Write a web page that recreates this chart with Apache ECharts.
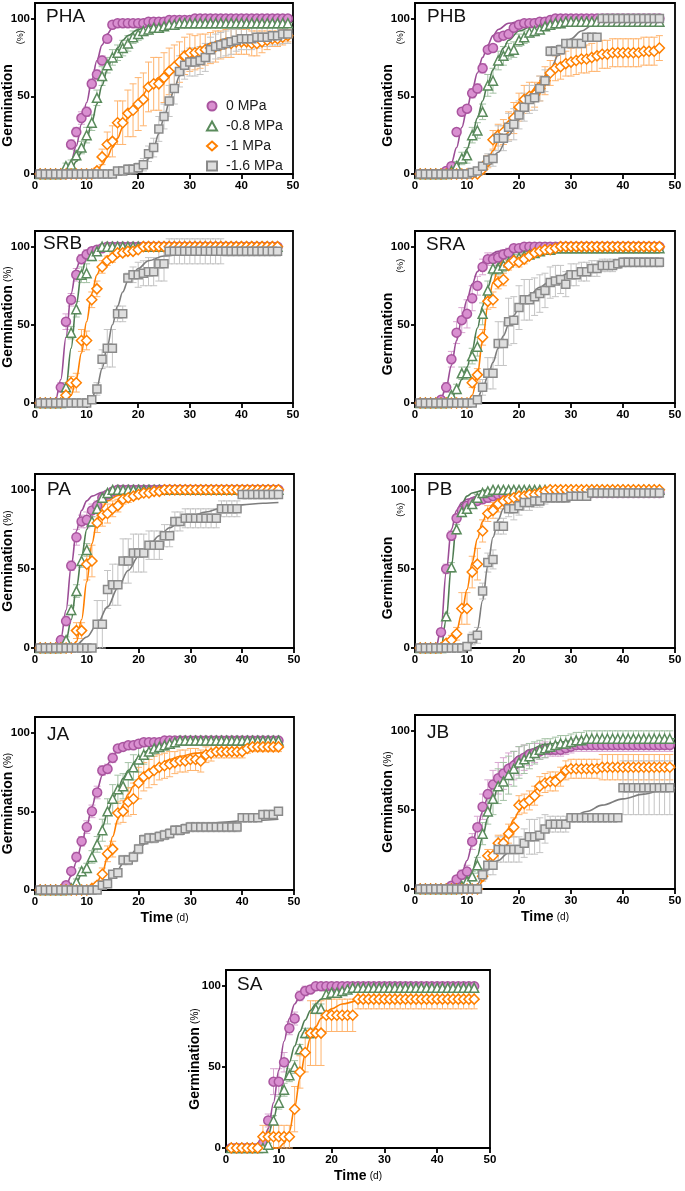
<!DOCTYPE html>
<html>
<head>
<meta charset="utf-8">
<script src="https://cdn.jsdelivr.net/npm/echarts@6/dist/echarts.min.js"></script>
<style>
html,body{margin:0;padding:0;background:#fff;}
#chart{width:685px;height:1191px;}
</style>
</head>
<body>
<div id="chart"></div>
<script>
// ---------- DATA (mean germination % per day, day 1..N; SD; fitted curve points) ----------
const SERIES_NAMES = ['0 MPa', '-0.8 MPa', '-1 MPa', '-1.6 MPa'];
const PANEL_NAMES = ['PHA', 'PHB', 'SRB', 'SRA', 'PA', 'PB', 'JA', 'JB', 'SA'];
const X_TICKS = [0, 10, 20, 30, 40, 50];
const Y_TICKS = [0, 50, 100];

// PHA (days 1-49)
const PHA_0 = [0,0,0,0,0,0,19,27,36,40, 58,64,73,87,96,97,97,97,97,97, 97,98,98,98,98,99,99,99,99,99, 100,100,100,100,100,100,100,100,100,100, 100,100,100,100,100,100,100,100,100];
const PHA_0_SD = [0,0,0,0,0,0,3,3,4,3, 3,3,3,2,2,1,1,1,1,1, 1,1,1,1,1,1,1,1,1,1, 0,0,0,0,0,0,0,0,0,0, 0,0,0,0,0,0,0,0,0];
const PHA_08 = [0,0,0,0,0,5,6,12,17,25, 33,49,63,70,75,78,81,84,88,90, 92,93,94,94,95,96,96,97,97,97, 97,97,97,97,97,97,97,97,97,97, 97,97,97,97,97,97,97,97,97];
const PHA_08_SD = [0,0,0,0,0,2,3,3,4,5, 5,5,6,5,5,5,5,5,4,4, 3,3,3,2,2,2,2,2,2,2, 2,2,2,2,2,2,2,2,2,2, 2,2,2,2,2,2,2,2,2];
const PHA_1 = [0,0,0,0,0,0,0,0,0,0, 0,2,11,19,21,33,33,39,41,45, 48,56,58,58,62,66,69,72,76,78, 78,79,80,81,82,83,84,84,85,85, 85,84,84,85,86,87,87,88,89];
const PHA_1_SD = [0,0,0,0,0,0,0,0,0,0, 0,2,5,8,10,14,14,15,17,17, 17,16,17,17,16,15,14,13,12,12, 11,11,10,10,10,9,9,9,8,8, 8,8,8,7,6,5,5,5,4];
const PHA_16 = [0,0,0,0,0,0,0,0,0,0, 0,0,0,0,0,2,2,3,3,4, 6,13,17,29,37,47,55,66,70,72, 72,73,75,80,82,83,84,85,86,87, 87,87,88,88,88,89,89,90,90];
const PHA_16_SD = [0,0,0,0,0,0,0,0,0,0, 0,0,0,0,0,2,2,3,3,3, 4,5,6,8,8,10,10,10,9,9, 9,9,9,8,8,8,8,8,7,7, 7,7,7,6,6,6,6,6,6];
const PHA_0_FIT = [[0,0],[5,0],[6,2],[7,8],[8,18],[9,32],[10,46],[11,60],[12,73],[13,83],[14,90],[15,94],[17,97],[20,98.5],[25,99.5],[30,100],[50,100]];
const PHA_08_FIT = [[0,0],[5.5,0],[7,3],[8,8],[9,14],[10,22],[11,33],[12,45],[13,57],[14,67],[15,75],[16,81],[17,86],[18,89],[20,93],[22,95],[25,96.5],[30,97],[50,97.5]];
const PHA_1_FIT = [[0,0],[11,0],[12,2],[13,6],[14,11],[15,17],[16,23],[17,30],[18,36],[20,46],[22,55],[24,62],[26,68],[28,73],[30,76],[33,80],[36,83],[40,85],[45,87],[50,88]];
const PHA_16_FIT = [[0,0],[19,0],[20,2],[21,5],[22,10],[23,17],[24,26],[25,36],[26,46],[27,55],[28,63],[29,69],[30,74],[32,80],[34,84],[37,87],[40,88.5],[45,89.5],[50,90]];

// PHB (days 1-47)
const PHB_0 = [0,0,0,0,0,2,5,27,40,42, 52,55,68,80,81,88,89,90,94,96, 97,97,97,98,98,99,100,100,100,100, 100,100,100,100,100,100,100,100,100,100, 100,100,100,100,100,100,100];
const PHB_0_SD = [0,0,0,0,0,1,2,2,2,2, 3,3,3,2,2,2,2,2,2,2, 1,1,1,1,1,1,0,0,0,0, 0,0,0,0,0,0,0,0,0,0, 0,0,0,0,0,0,0];
const PHB_08 = [0,0,0,0,0,0,2,5,10,12, 25,28,40,57,60,73,76,79,80,86, 88,91,92,93,95,96,97,97,98,98, 98,98,98,98,98,98,98,98,98,98, 98,98,98,98,98,98,98];
const PHB_08_SD = [0,0,0,0,0,0,1,3,4,5, 5,5,5,7,8,6,6,5,5,4, 4,3,3,2,2,2,2,2,2,2, 2,2,2,2,2,2,2,2,2,2, 2,2,2,2,2,2,2];
const PHB_1 = [0,0,0,0,0,0,0,0,0,0, 0,0,3,8,22,25,27,31,36,43, 48,50,51,55,60,65,68,69,71,72, 73,74,74,75,76,77,77,78,78,78, 78,78,78,79,79,79,81];
const PHB_1_SD = [0,0,0,0,0,0,0,0,0,0, 0,0,3,4,6,7,8,9,10,9, 9,9,8,8,9,8,8,8,8,9, 9,9,9,9,10,9,9,9,9,9, 9,9,9,9,9,9,8];
const PHB_16 = [0,0,0,0,0,0,0,0,0,0, 1,2,5,9,10,23,23,30,32,38, 43,48,49,55,60,79,79,80,84,84, 84,84,88,88,88,100,100,100,100,100, 100,100,100,100,100,100,100];
const PHB_16_SD = [0,0,0,0,0,0,0,0,0,0, 1,1,2,4,5,8,8,9,10,9, 9,9,8,8,7,3,3,3,2,2, 2,2,2,2,2,0,0,0,0,0, 0,0,0,0,0,0,0];
const PHB_0_FIT = [[0,0],[5,0],[6,2],[7,7],[8,17],[9,30],[10,42],[11,54],[12,65],[13,75],[14,83],[15,89],[16,93],[18,97],[21,99],[25,100],[47,100]];
const PHB_08_FIT = [[0,0],[6,0],[7,1],[8,4],[9,9],[10,16],[11,25],[12,36],[13,47],[14,58],[15,67],[16,75],[17,81],[18,86],[20,92],[23,96],[27,98],[35,98.5],[47,99]];
const PHB_1_FIT = [[0,0],[11,0],[12,1],[13,4],[14,9],[15,15],[16,21],[17,27],[18,33],[20,43],[22,52],[24,59],[26,65],[28,69],[30,72],[33,75],[36,77],[40,78],[47,79]];
const PHB_16_FIT = [[0,0],[12,0],[14,5],[16,14],[18,25],[20,35],[22,46],[24,57],[26,68],[28,79],[30,87],[32,92],[34,95.5],[36,97.5],[40,99.5],[44,100],[47,100]];

// SRB (days 1-47)
const SRB_0 = [0,0,0,0,10,52,66,82,92,95, 97,98,99,100,100,100,100,100,100,100, 100,100,100,100,100,100,100,100,100,100, 100,100,100,100,100,100,100,100,100,100, 100,100,100,100,100,100,100];
const SRB_0_SD = [0,0,0,0,3,5,4,4,3,3, 2,1,0,0,0,0,0,0,0,0, 0,0,0,0,0,0,0,0,0,0, 0,0,0,0,0,0,0,0,0,0, 0,0,0,0,0,0,0];
const SRB_08 = [0,0,0,0,0,10,45,60,82,83, 94,97,100,100,100,100,100,100,100,100, 100,100,100,100,100,100,100,100,100,100, 100,100,100,100,100,100,100,100,100,100, 100,100,100,100,100,100,100];
const SRB_08_SD = [0,0,0,0,0,3,4,5,5,6, 3,2,0,0,0,0,0,0,0,0, 0,0,0,0,0,0,0,0,0,0, 0,0,0,0,0,0,0,0,0,0, 0,0,0,0,0,0,0];
const SRB_1 = [0,0,0,0,0,5,13,13,40,40, 66,73,87,91,93,96,96,97,97,98, 100,100,100,100,100,100,100,100,100,100, 100,100,100,100,100,100,100,100,100,100, 100,100,100,100,100,100,100];
const SRB_1_SD = [0,0,0,0,0,2,4,6,7,6, 5,5,4,3,3,2,2,2,2,1, 0,0,0,0,0,0,0,0,0,0, 0,0,0,0,0,0,0,0,0,0, 0,0,0,0,0,0,0];
const SRB_16 = [0,0,0,0,0,0,0,0,0,0, 2,9,28,35,35,57,57,80,82,82, 83,84,84,89,89,97,97,97,97,97, 97,97,97,97,97,97,97,97,97,97, 97,97,97,97,97,97,97];
const SRB_16_SD = [0,0,0,0,0,0,0,0,0,0, 1,4,6,12,12,5,5,3,5,8, 8,9,9,11,11,8,8,8,8,8, 8,8,8,8,8,8,3,3,3,3, 3,3,3,3,3,3,3];
const SRB_0_FIT = [[0,0],[3.5,0],[4,2],[5,15],[6,42],[7,70],[8,86],[9,94],[10,97],[12,99.5],[15,100],[47,100]];
const SRB_08_FIT = [[0,0],[5,0],[6,10],[7,35],[8,63],[9,83],[10,93],[11,97],[13,99.5],[16,100],[47,100]];
const SRB_1_FIT = [[0,0],[6,0],[7,5],[8,15],[9,32],[10,52],[11,70],[12,82],[13,89],[14,93],[16,97],[20,99],[25,100],[47,100]];
const SRB_16_FIT = [[0,0],[10,0],[11,3],[12,10],[13,22],[14,36],[15,50],[16,62],[17,71],[18,78],[19,83],[20,86],[22,91],[25,94],[30,96],[47,97]];

// SRA (days 1-47)
const SRA_0 = [0,0,0,0,2,10,28,45,53,57, 67,75,87,92,92,93,95,96,99,99, 100,100,100,100,100,100,100,100,100,100, 100,100,100,100,100,100,100,100,100,100, 100,100,100,100,100,100,100];
const SRA_0_SD = [0,0,0,0,1,3,5,7,8,9, 8,6,5,4,4,4,3,3,1,1, 0,0,0,0,0,0,0,0,0,0, 0,0,0,0,0,0,0,0,0,0, 0,0,0,0,0,0,0];
const SRA_08 = [0,0,0,0,0,0,5,9,19,19, 30,36,57,72,86,86,88,90,92,93, 94,95,96,97,98,98,99,99,99,99, 99,99,99,99,99,99,99,99,99,99, 99,99,99,99,99,99,99];
const SRA_08_SD = [0,0,0,0,0,0,2,3,4,4, 5,6,7,6,4,4,4,3,3,3, 2,2,1,1,1,1,1,1,1,1, 1,1,1,1,1,1,1,1,1,1, 1,1,1,1,1,1,1];
const SRA_1 = [0,0,0,0,0,0,0,0,0,0, 13,18,42,65,66,77,79,88,91,90, 92,94,96,97,98,98,99,100,100,100, 100,100,100,100,100,100,100,100,100,100, 100,100,100,100,100,100,100];
const SRA_1_SD = [0,0,0,0,0,0,0,0,0,0, 3,4,5,5,5,4,4,3,3,3, 3,2,2,2,1,1,1,0,0,0, 0,0,0,0,0,0,0,0,0,0, 0,0,0,0,0,0,0];
const SRA_16 = [0,0,0,0,0,0,0,0,0,0, 0,2,10,19,19,38,38,52,53,61, 66,66,68,70,72,77,78,79,76,82, 82,84,84,86,86,88,88,88,89,90, 90,90,90,90,90,90,90];
const SRA_16_SD = [0,0,0,0,0,0,0,0,0,0, 0,1,5,10,10,14,14,15,15,14, 13,13,12,12,11,10,10,9,8,7, 7,6,6,5,5,4,4,4,3,3, 3,3,3,3,3,3,3];
const SRA_0_FIT = [[0,0],[4,0],[5,3],[6,10],[7,24],[8,40],[9,54],[10,66],[11,76],[12,84],[13,90],[14,94],[16,97],[18,98.5],[22,99.5],[27,100],[47,100]];
const SRA_08_FIT = [[0,0],[6,0],[7,3],[8,8],[9,15],[10,23],[11,34],[12,48],[13,62],[14,74],[15,83],[16,89],[17,93],[18,95],[20,97],[25,98.5],[30,99],[47,99]];
const SRA_1_FIT = [[0,0],[10,0],[11,5],[12,18],[13,40],[14,62],[15,77],[16,86],[17,92],[18,95],[20,98],[24,99.5],[30,100],[47,100]];
const SRA_16_FIT = [[0,0],[11,0],[12,3],[13,9],[14,17],[15,26],[16,35],[17,43],[18,50],[19,56],[20,61],[22,69],[24,74],[26,78],[28,81],[30,84],[33,86],[36,88],[40,89],[47,90]];

// PA (days 1-47)
const PA_0 = [0,0,0,0,5,17,52,70,80,81, 87,90,95,97,99,100,100,100,100,100, 100,100,100,100,100,100,100,100,100,100, 100,100,100,100,100,100,100,100,100,100, 100,100,100,100,100,100,100];
const PA_0_SD = [0,0,0,0,2,3,3,5,4,5, 4,3,2,2,1,0,0,0,0,0, 0,0,0,0,0,0,0,0,0,0, 0,0,0,0,0,0,0,0,0,0, 0,0,0,0,0,0,0];
const PA_08 = [0,0,0,0,0,5,24,36,55,62, 80,88,95,98,100,100,100,100,100,100, 100,100,100,100,100,100,100,100,100,100, 100,100,100,100,100,100,100,100,100,100, 100,100,100,100,100,100,100];
const PA_08_SD = [0,0,0,0,0,2,3,4,4,4, 3,3,2,1,0,0,0,0,0,0, 0,0,0,0,0,0,0,0,0,0, 0,0,0,0,0,0,0,0,0,0, 0,0,0,0,0,0,0];
const PA_1 = [0,0,0,0,0,0,0,11,11,53, 55,79,84,85,88,90,94,95,96,97, 98,98,99,99,100,100,100,100,100,100, 100,100,100,100,100,100,100,100,100,100, 100,100,100,100,100,100,100];
const PA_1_SD = [0,0,0,0,0,0,0,5,5,10, 10,6,7,6,5,4,3,3,2,2, 1,1,1,1,0,0,0,0,0,0, 0,0,0,0,0,0,0,0,0,0, 0,0,0,0,0,0,0];
const PA_16 = [0,0,0,0,0,0,0,0,0,0, 0,15,15,37,40,40,55,55,60,60, 60,65,65,65,71,71,80,80,82,82, 82,82,82,82,82,88,88,88,88,97, 97,97,97,97,97,97,97];
const PA_16_SD = [0,0,0,0,0,0,0,0,0,0, 0,15,15,12,13,13,14,14,12,12, 12,9,9,9,7,7,6,6,6,6, 6,6,6,6,6,5,5,5,5,2, 2,2,2,2,2,2,2];
const PA_0_FIT = [[0,0],[4,0],[5,6],[6,24],[7,52],[8,74],[9,87],[10,93],[11,96],[13,98.5],[16,99.5],[20,100],[47,100]];
const PA_08_FIT = [[0,0],[5,0],[6,5],[7,18],[8,38],[9,58],[10,75],[11,86],[12,93],[13,96],[15,98.5],[18,99.5],[22,100],[47,100]];
const PA_1_FIT = [[0,0],[7,0],[8,4],[9,18],[10,42],[11,66],[12,81],[13,89],[14,93],[16,96.5],[19,98.5],[24,99.5],[30,100],[47,100]];
const PA_16_FIT = [[0,0],[6,0],[8,2],[10,7],[12,15],[14,26],[16,38],[18,49],[20,58],[22,65],[24,71],[26,76],[28,80],[30,83],[33,86],[36,88.5],[40,90.5],[44,91.5],[47,92]];

// PB (days 1-47)
const PB_0 = [0,0,0,0,10,50,71,82,87,90, 92,93,94,95,96,97,97,98,98,98, 98,98,98,98,98,98,98,98,98,98, 98,98,98,98,98,98,98,98,98,98, 98,98,98,98,98,98,98];
const PB_0_SD = [0,0,0,0,2,3,3,2,2,2, 2,2,2,1,1,1,1,1,1,1, 1,1,1,1,1,1,1,1,1,1, 1,1,1,1,1,1,1,1,1,1, 1,1,1,1,1,1,1];
const PB_08 = [0,0,0,0,0,20,51,75,86,88, 91,95,98,99,100,100,100,100,100,100, 100,100,100,100,100,100,100,100,100,100, 100,100,100,100,100,100,100,100,100,100, 100,100,100,100,100,100,100];
const PB_08_SD = [0,0,0,0,0,2,3,3,3,3, 2,2,1,1,0,0,0,0,0,0, 0,0,0,0,0,0,0,0,0,0, 0,0,0,0,0,0,0,0,0,0, 0,0,0,0,0,0,0];
const PB_1 = [0,0,0,0,0,3,5,9,25,25, 48,53,74,85,87,91,93,94,95,96, 96,97,97,98,99,100,100,100,100,100, 100,100,100,100,100,100,100,100,100,100, 100,100,100,100,100,100,100];
const PB_1_SD = [0,0,0,0,0,2,3,4,10,10, 10,10,7,5,5,5,5,5,4,4, 4,3,3,2,1,0,0,0,0,0, 0,0,0,0,0,0,0,0,0,0, 0,0,0,0,0,0,0];
const PB_16 = [0,0,0,0,0,0,0,0,0,1, 6,8,36,54,56,77,77,88,88,90, 92,92,93,93,95,95,95,95,95,96, 96,96,96,98,98,98,98,98,98,98, 98,98,98,98,98,98,98];
const PB_16_SD = [0,0,0,0,0,0,0,0,0,1, 4,5,5,6,6,5,5,5,7,6, 5,5,4,4,4,3,3,3,3,2, 2,2,2,1,1,1,1,1,1,1, 1,1,1,1,1,1,1];
const PB_0_FIT = [[0,0],[4,0],[5,12],[6,48],[7,75],[8,87],[9,92],[10,94],[12,96],[15,97],[20,97.5],[47,97.5]];
const PB_08_FIT = [[0,0],[5,0],[6,18],[7,52],[8,79],[9,91],[10,96],[11,98],[13,99.5],[16,100],[47,100]];
const PB_1_FIT = [[0,0],[5,0],[6,2],[7,5],[8,11],[9,22],[10,37],[11,54],[12,69],[13,80],[14,87],[15,91],[16,94],[18,97],[21,98.5],[26,99.5],[32,100],[47,100]];
const PB_16_FIT = [[0,0],[10,0],[11,3],[12,12],[13,30],[14,52],[15,70],[16,81],[17,88],[18,92],[20,95],[23,97],[27,98],[35,98.5],[47,98.5]];

// JA (days 1-47)
const JA_0 = [0,0,0,0,0,3,12,21,31,40, 50,62,76,77,84,90,91,92,92,93, 94,94,94,94,95,95,95,95,95,95, 95,95,95,95,95,95,95,95,95,95, 95,95,95,95,95,95,95];
const JA_0_SD = [0,0,0,0,0,1,2,3,3,4, 4,4,3,3,3,2,2,2,2,2, 2,2,2,2,2,2,2,2,2,2, 2,2,2,2,2,2,2,2,2,2, 2,2,2,2,2,2,2];
const JA_08 = [0,0,0,0,0,0,1,5,12,14, 21,29,38,50,58,64,66,73,78,83, 86,88,90,91,92,93,94,95,95,95, 95,95,95,95,95,95,95,95,95,95, 95,95,95,95,95,95,95];
const JA_08_SD = [0,0,0,0,0,0,1,2,2,3, 4,5,7,8,9,9,8,8,8,8, 6,5,4,3,3,2,2,2,2,2, 2,2,2,2,2,2,2,2,2,2, 2,2,2,2,2,2,2];
const JA_1 = [0,0,0,0,0,0,0,0,0,0, 1,3,10,23,26,49,50,56,58,68, 72,74,76,78,79,80,81,82,82,83, 83,82,86,87,88,88,88,88,88,88, 90,91,91,91,91,91,91];
const JA_1_SD = [0,0,0,0,0,0,0,0,0,0, 1,2,4,5,5,7,7,9,10,10, 9,9,9,8,8,8,7,7,7,7, 7,7,5,5,4,4,4,4,4,4, 3,3,3,3,3,3,3];
const JA_16 = [0,0,0,0,0,0,0,0,0,0, 0,0,3,4,10,11,19,19,21,26, 32,33,33,34,35,36,38,38,39,40, 40,40,40,40,40,40,40,40,40,46, 46,46,46,48,48,48,50];
const JA_16_SD = [0,0,0,0,0,0,0,0,0,0, 0,0,1,1,2,2,3,3,3,3, 3,3,3,3,3,3,3,3,3,3, 3,3,3,3,3,3,3,3,3,2, 2,2,2,2,2,2,2];
const JA_0_FIT = [[0,0],[5,0],[6,3],[7,9],[8,18],[9,29],[10,41],[11,53],[12,64],[13,73],[14,80],[15,85],[16,89],[18,92.5],[20,94],[25,95],[47,95]];
const JA_08_FIT = [[0,0],[6,0],[7,2],[8,5],[9,10],[10,16],[11,23],[12,31],[13,40],[14,49],[15,57],[16,64],[17,71],[18,76],[20,84],[22,89],[24,92],[27,94],[32,95],[47,95]];
const JA_1_FIT = [[0,0],[10,0],[11,2],[12,5],[13,11],[14,21],[15,34],[16,45],[17,54],[18,61],[19,66],[20,70],[22,76],[24,80],[26,83],[28,85],[31,87],[35,89],[40,90],[47,91]];
const JA_16_FIT = [[0,0],[12,0],[13,2],[14,5],[15,9],[16,13],[17,17],[18,21],[20,27],[22,31],[24,34],[26,37],[28,39],[30,40.5],[33,42],[36,43],[40,44],[47,45]];

// JB (days 1-49)
const JB_0 = [0,0,0,0,0,0,2,6,9,11, 30,39,52,60,66,70,73,76,78,81, 83,85,86,87,88,88,88,88,89,90, 91,91,91,91,91,91,91,91,91,91, 91,91,91,91,91,91,91,91,91];
const JB_0_SD = [0,0,0,0,0,0,1,2,3,4, 5,7,8,9,9,10,10,10,9,9, 8,7,6,5,5,4,4,4,4,4, 4,4,4,4,4,4,4,4,4,4, 4,4,4,4,4,4,4,4,4];
const JB_08 = [0,0,0,0,0,0,0,0,2,5, 8,15,35,49,57,65,68,72,76,80, 82,84,86,88,89,90,91,92,92,93, 94,94,95,95,95,95,95,95,95,95, 95,95,95,95,95,95,95,95,95];
const JB_08_SD = [0,0,0,0,0,0,0,0,1,2, 3,5,7,8,10,11,12,12,11,10, 9,8,7,6,6,5,5,5,5,5, 5,5,5,5,5,5,5,5,5,5, 5,5,5,5,5,5,5,5,5];
const JB_1 = [0,0,0,0,0,0,0,0,0,0, 0,0,8,21,21,29,29,35,39,53, 54,56,59,65,67,68,68,71,75,76, 76,76,76,76,76,77,77,77,77,77, 77,77,77,77,77,77,77,77,77];
const JB_1_SD = [0,0,0,0,0,0,0,0,0,0, 0,0,3,4,4,5,5,6,6,6, 6,6,6,6,6,6,6,6,6,6, 6,6,6,6,6,8,8,8,8,8, 8,8,8,8,8,8,8,8,8];
const JB_16 = [0,0,0,0,0,0,0,0,0,0, 0,0,9,15,15,25,25,25,25,25, 29,33,33,34,38,41,41,41,41,45, 45,45,45,45,45,45,45,45,45,64, 64,64,64,64,64,64,64,64,64];
const JB_16_SD = [0,0,0,0,0,0,0,0,0,0, 0,0,4,6,6,8,8,8,8,8, 9,11,11,11,9,5,5,5,5,2, 2,2,2,2,2,2,2,2,2,17, 17,17,17,17,17,17,17,17,17];
const JB_0_FIT = [[0,0],[6,0],[7,2],[8,5],[9,10],[10,18],[11,28],[12,39],[13,49],[14,58],[15,65],[16,71],[17,75],[18,79],[20,84],[22,87],[25,89.5],[30,91],[40,91.5],[50,91.5]];
const JB_08_FIT = [[0,0],[8,0],[9,2],[10,5],[11,11],[12,21],[13,33],[14,45],[15,56],[16,65],[17,72],[18,77],[20,84],[22,88],[25,91.5],[30,93.5],[40,94.5],[50,95]];
const JB_1_FIT = [[0,0],[12,0],[13,5],[14,13],[15,20],[16,26],[17,32],[18,38],[19,44],[20,49],[21,54],[22,58],[24,65],[26,70],[28,73],[30,75],[35,77],[40,77.5],[50,78]];
const JB_16_FIT = [[0,0],[11,0],[12,3],[13,8],[14,12],[16,18],[18,23],[20,27],[22,31],[24,35],[26,39],[28,42],[30,45],[33,49],[36,53],[40,57],[44,60],[48,63],[50,64]];

// SA (days 1-47)
const SA_0 = [0,0,0,0,0,0,3,17,41,41, 53,74,80,94,97,98,100,100,100,100, 100,100,100,100,100,100,100,100,100,100, 100,100,100,100,100,100,100,100,100,100, 100,100,100,100,100,100,100];
const SA_0_SD = [0,0,0,0,0,0,2,4,8,8, 6,4,4,3,3,2,1,0,0,0, 0,0,0,0,0,0,0,0,0,0, 0,0,0,0,0,0,0,0,0,0, 0,0,0,0,0,0,0];
const SA_08 = [0,0,0,0,0,0,0,2,17,28, 36,45,50,61,71,71,86,86,95,96, 96,97,98,99,99,99,99,99,99,99, 99,99,99,99,99,99,99,99,99,99, 99,99,99,99,99,99,99];
const SA_08_SD = [0,0,0,0,0,0,0,1,3,4, 4,4,4,3,3,3,3,3,2,2, 1,1,1,1,1,1,1,1,1,1, 1,1,1,1,1,1,1,1,1,1, 1,1,1,1,1,1,1];
const SA_1 = [0,0,0,0,0,0,7,7,7,7, 7,7,24,47,59,71,71,71,82,82, 82,82,82,82,92,92,92,92,92,92, 92,92,92,92,92,92,92,92,92,92, 92,92,92,92,92,92,92];
const SA_1_SD = [0,0,0,0,0,0,7,7,7,7, 7,7,14,10,12,20,20,20,10,10, 10,10,10,10,6,6,6,6,6,6, 6,6,6,6,6,6,6,6,6,6, 6,6,6,6,6,6,6];
const SA_0_FIT = [[0,0],[6,0],[7,3],[8,12],[9,28],[10,48],[11,66],[12,80],[13,89],[14,94],[15,97],[17,99],[20,100],[47,100]];
const SA_08_FIT = [[0,0],[6,0],[7,2],[8,8],[9,18],[10,30],[11,42],[12,53],[13,63],[14,72],[15,79],[16,85],[17,89],[18,92],[20,96],[23,98],[27,99],[47,99]];
const SA_1_FIT = [[0,0],[10,0],[11,3],[12,10],[13,25],[14,43],[15,58],[16,68],[17,75],[18,80],[19,84],[20,86],[22,89],[25,91],[30,92],[47,92]];

// ---------- LAYOUT / STYLE ----------
const FONT = '"Liberation Sans", Arial, Helvetica, sans-serif';
const STYLES = [
  {symbol:'circle',   size:9,  fill:'#d98fd0', border:'#a9559f', line:'#9b4d96', err:'#d8a5d0'},
  {symbol:'triangle', size:9,  fill:'#ffffff', border:'#5a8b5c', line:'#4f7d52', err:'#a4c2a5'},
  {symbol:'diamond',  size:10, fill:'#ffffff', border:'#ff8000', line:'#ff7f00', err:'#ffb46e'},
  {symbol:'rect',     size:8,  fill:'#dedede', border:'#8a8a8a', line:'#7d7d7d', err:'#c4c4c4'}
];

const PANELS = [
  {title:'PHA', grid:{left:35,top:3,width:258,height:171}, tpos:[46,7], far:true, time:false, gap:10,
   groups:[[PHA_0,PHA_0_SD,PHA_0_FIT],[PHA_08,PHA_08_SD,PHA_08_FIT],[PHA_1,PHA_1_SD,PHA_1_FIT],[PHA_16,PHA_16_SD,PHA_16_FIT]]},
  {title:'PHB', grid:{left:415,top:3,width:260,height:171}, tpos:[427,7], far:true, time:false, gap:10,
   groups:[[PHB_0,PHB_0_SD,PHB_0_FIT],[PHB_08,PHB_08_SD,PHB_08_FIT],[PHB_1,PHB_1_SD,PHB_1_FIT],[PHB_16,PHB_16_SD,PHB_16_FIT]]},
  {title:'SRB', grid:{left:35,top:231,width:258,height:172}, tpos:[43,234], far:false, time:false, gap:20,
   groups:[[SRB_0,SRB_0_SD,SRB_0_FIT],[SRB_08,SRB_08_SD,SRB_08_FIT],[SRB_1,SRB_1_SD,SRB_1_FIT],[SRB_16,SRB_16_SD,SRB_16_FIT]]},
  {title:'SRA', grid:{left:415,top:231,width:260,height:172}, tpos:[426,235], far:true, time:false, gap:10,
   groups:[[SRA_0,SRA_0_SD,SRA_0_FIT],[SRA_08,SRA_08_SD,SRA_08_FIT],[SRA_1,SRA_1_SD,SRA_1_FIT],[SRA_16,SRA_16_SD,SRA_16_FIT]]},
  {title:'PA', grid:{left:35,top:474,width:259,height:174}, tpos:[47,480], far:false, time:false, gap:20,
   groups:[[PA_0,PA_0_SD,PA_0_FIT],[PA_08,PA_08_SD,PA_08_FIT],[PA_1,PA_1_SD,PA_1_FIT],[PA_16,PA_16_SD,PA_16_FIT]]},
  {title:'PB', grid:{left:415,top:474,width:260,height:174}, tpos:[427,480], far:true, time:false, gap:10,
   groups:[[PB_0,PB_0_SD,PB_0_FIT],[PB_08,PB_08_SD,PB_08_FIT],[PB_1,PB_1_SD,PB_1_FIT],[PB_16,PB_16_SD,PB_16_FIT]]},
  {title:'JA', grid:{left:35,top:717,width:259,height:173}, tpos:[47,725], far:false, time:true, gap:20,
   groups:[[JA_0,JA_0_SD,JA_0_FIT],[JA_08,JA_08_SD,JA_08_FIT],[JA_1,JA_1_SD,JA_1_FIT],[JA_16,JA_16_SD,JA_16_FIT]]},
  {title:'JB', grid:{left:415,top:715,width:260,height:174}, tpos:[427,723], far:false, time:true, gap:20,
   groups:[[JB_0,JB_0_SD,JB_0_FIT],[JB_08,JB_08_SD,JB_08_FIT],[JB_1,JB_1_SD,JB_1_FIT],[JB_16,JB_16_SD,JB_16_FIT]]},
  {title:'SA', grid:{left:226,top:970,width:264,height:178}, tpos:[237,975], far:false, time:true, gap:24,
   groups:[[SA_0,SA_0_SD,SA_0_FIT],[SA_08,SA_08_SD,SA_08_FIT],[SA_1,SA_1_SD,SA_1_FIT]]}
];

function renderErr(params, api) {
  const x = api.value(0), y = api.value(1), e = api.value(2);
  const p1 = api.coord([x, y + e]);
  const p2 = api.coord([x, Math.max(0, y - e)]);
  const w = 3.5;
  const style = {stroke: api.visual('color'), lineWidth: 1, fill: null};
  return {type: 'group', children: [
    {type: 'line', shape: {x1: p1[0], y1: p1[1], x2: p2[0], y2: p2[1]}, style: style},
    {type: 'line', shape: {x1: p1[0] - w, y1: p1[1], x2: p1[0] + w, y2: p1[1]}, style: style},
    {type: 'line', shape: {x1: p2[0] - w, y1: p2[1], x2: p2[0] + w, y2: p2[1]}, style: style}
  ]};
}

const grids = [], xAxes = [], yAxes = [], series = [], titles = [];
const axisLineStyle = {color: '#000', width: 1.8};

PANELS.forEach((p, i) => {
  grids.push(Object.assign({show: true, borderColor: '#000', borderWidth: 1.8, backgroundColor: 'transparent',
    containLabel: false, outerBoundsMode: 'none'}, p.grid));
  titles.push({text: p.title, left: p.tpos[0], top: p.tpos[1], padding: 0,
    textStyle: {fontSize: 19, fontWeight: 'normal', color: '#111', fontFamily: FONT}});
  xAxes.push({
    gridIndex: i, type: 'value', min: X_TICKS[0], max: X_TICKS[X_TICKS.length - 1], interval: 10,
    axisLine: {show: true, onZero: false, lineStyle: axisLineStyle},
    axisTick: {show: true, length: 5, lineStyle: axisLineStyle},
    axisLabel: {color: '#000', fontWeight: 'bold', fontSize: 11.5, margin: 6, fontFamily: FONT},
    splitLine: {show: false},
    name: p.time ? '{a|Time} {b|(d)}' : '',
    nameLocation: 'middle', nameGap: 21, nameMoveOverlap: false,
    nameTextStyle: {rich: {
      a: {fontSize: 14, fontWeight: 'bold', color: '#000', fontFamily: FONT},
      b: {fontSize: 10, color: '#000', fontFamily: FONT}
    }}
  });
  yAxes.push({
    gridIndex: i, type: 'value', min: 0, max: 110,
    axisLine: {show: true, onZero: false, lineStyle: axisLineStyle},
    axisTick: {show: true, length: 4, lineStyle: axisLineStyle, customValues: Y_TICKS},
    axisLabel: {color: '#000', fontWeight: 'bold', fontSize: 11.5, margin: 5, fontFamily: FONT, customValues: Y_TICKS},
    splitLine: {show: false},
    name: p.far ? '{a|Germination}{s| }{b|(%)}' : '{a|Germination} {b|(%)}',
    nameLocation: 'middle', nameGap: p.gap, nameMoveOverlap: false,
    nameTextStyle: {rich: p.far ? {
      a: {fontSize: 14, fontWeight: 'bold', color: '#000', fontFamily: FONT, verticalAlign: 'top', lineHeight: 14},
      s: {width: 20, lineHeight: 24},
      b: {fontSize: 9, color: '#000', fontFamily: FONT, verticalAlign: 'bottom', lineHeight: 10}
    } : {
      a: {fontSize: 14, fontWeight: 'bold', color: '#000', fontFamily: FONT},
      b: {fontSize: 10, color: '#000', fontFamily: FONT}
    }}
  });

  p.groups.forEach((g, k) => {
    const st = STYLES[k];
    const vals = g[0], sds = g[1];
    const errs = vals.map((v, d) => [d + 1, v, sds[d]]).filter(r => r[2] > 0);
    series.push({
      type: 'custom', name: SERIES_NAMES[k] + ' sd', xAxisIndex: i, yAxisIndex: i,
      renderItem: renderErr, data: errs, encode: {x: 0, y: 1},
      itemStyle: {color: st.err}, z: 1, silent: true
    });
  });
  p.groups.forEach((g, k) => {
    const st = STYLES[k];
    series.push({
      type: 'line', name: SERIES_NAMES[k] + ' fit', xAxisIndex: i, yAxisIndex: i,
      data: g[2], smooth: 0.35, smoothMonotone: 'x', symbol: 'none', showSymbol: false,
      lineStyle: {color: st.line, width: 1.6}, itemStyle: {color: st.line}, z: 2, silent: true
    });
  });
  p.groups.forEach((g, k) => {
    const st = STYLES[k];
    series.push({
      type: 'scatter', name: SERIES_NAMES[k], xAxisIndex: i, yAxisIndex: i,
      data: g[0].map((v, d) => [d + 1, v]),
      symbol: st.symbol, symbolSize: st.size,
      itemStyle: {color: st.fill, borderColor: st.border, borderWidth: 1.5, opacity: 1},
      z: 3, silent: true
    });
  });
});

const chart = echarts.init(document.getElementById('chart'), null, {renderer: 'canvas'});
chart.setOption({
  animation: false,
  backgroundColor: '#ffffff',
  title: titles,
  grid: grids,
  xAxis: xAxes,
  yAxis: yAxes,
  legend: {
    data: SERIES_NAMES, orient: 'vertical', left: 201, top: 93,
    itemWidth: 10, itemHeight: 9, itemGap: 4, selectedMode: false,
    textStyle: {fontSize: 14, lineHeight: 16, color: '#1a1a1a', fontFamily: FONT, padding: [0, 0, 0, 4]}
  },
  series: series
});
</script>
</body>
</html>
